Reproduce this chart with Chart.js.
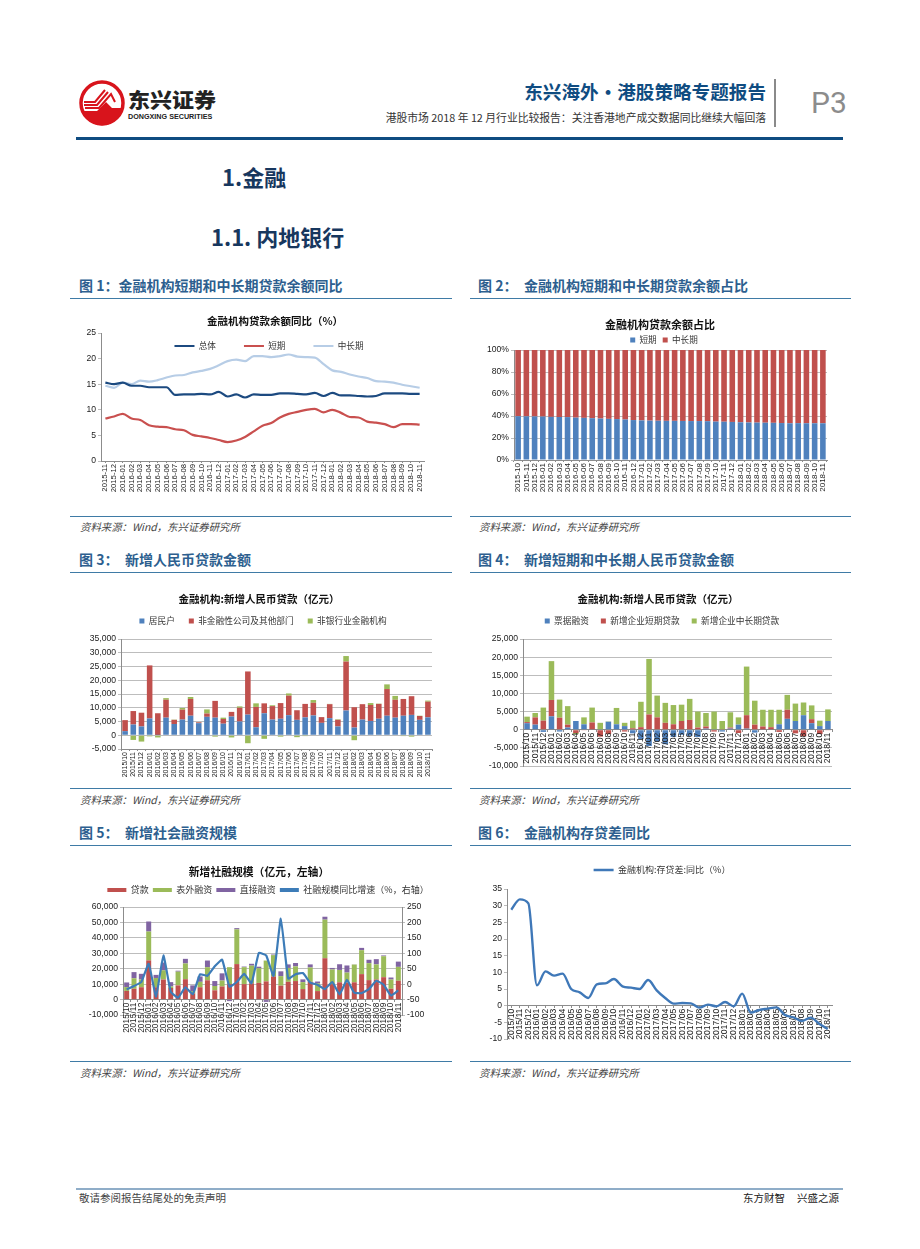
<!DOCTYPE html>
<html>
<head>
<meta charset="utf-8">
<script src="https://cdn.jsdelivr.net/npm/chart.js@4"></script>
<style>
  html, body { margin: 0; padding: 0; background: #fff; }
  #page { position: relative; width: 920px; height: 1249px; overflow: hidden; font-family: "Noto Sans CJK SC", sans-serif; }
  #page canvas { position: absolute; }
  .t { position: absolute; white-space: nowrap; line-height: 1; }
  .rule { position: absolute; height: 1px; background: #3f7ba6; }
  .fig { font-size: 14px; font-weight: 700; color: #2d5f8f; }
  .src { font-size: 10.4px; font-style: italic; color: #444; }
  .sec { font-size: 22px; font-weight: 700; color: #17375e; }
</style>
</head>
<body>
<div id="page">
  <!-- 页眉 -->
  <svg style="position:absolute;left:78px;top:80px" width="48" height="46" viewBox="0 0 48 46">
    <circle cx="24" cy="23" r="21" fill="#fff" stroke="#d8141c" stroke-width="3.5"/>
    <path d="M5 31 L19 31 L28 22 L34 28 L43 28 L43 32 A20 20 0 0 1 5 31 Z" fill="#d8141c"/>
    <path d="M6 22 L17 22 L27 10 M6 25 L19 25 L30 12 M7 28 L21 28 L33 14 L37 22" fill="none" stroke="#d8141c" stroke-width="2"/>
  </svg>
  <div class="t" style="left:128px;top:89px;font-size:22px;font-weight:900;color:#222;transform:scaleY(0.92);transform-origin:top left">东兴证券</div>
  <div class="t" style="left:128px;top:113px;font-size:7.2px;font-weight:700;color:#222;font-family:'Liberation Sans'">DONGXING SECURITIES</div>
  <div class="t" style="right:154px;top:82px;font-size:18.6px;font-weight:700;color:#0f4c81">东兴海外・港股策略专题报告</div>
  <div class="t" style="right:154px;top:112px;font-size:10.8px;color:#333">港股市场 2018 年 12 月行业比较报告：关注香港地产成交数据同比继续大幅回落</div>
  <div style="position:absolute;left:774px;top:79px;width:2px;height:48px;background:#8a8a8a"></div>
  <div class="t" style="left:811px;top:88px;font-size:30px;color:#8c8c8c;font-family:Roboto">P3</div>
  <div style="position:absolute;left:76px;top:137px;width:767px;height:3px;background:#0f4c81"></div>

  <div class="t sec" style="left:222px;top:165px">1.金融</div>
  <div class="t sec" style="left:211px;top:225px">1.1. 内地银行</div>

  <!-- 图题 -->
  <div class="t fig" style="left:79px;top:278px">图 1：金融机构短期和中长期贷款余额同比</div>
  <div class="t fig" style="left:478px;top:278px">图 2：</div>
  <div class="t fig" style="left:524px;top:278px">金融机构短期和中长期贷款余额占比</div>
  <div class="rule" style="left:70px;top:298px;width:382px"></div>
  <div class="rule" style="left:470px;top:298px;width:381px"></div>
  <div class="rule" style="left:70px;top:516px;width:382px"></div>
  <div class="rule" style="left:470px;top:516px;width:381px"></div>
  <div class="t src" style="left:80px;top:522px">资料来源：Wind，东兴证券研究所</div>
  <div class="t src" style="left:479px;top:522px">资料来源：Wind，东兴证券研究所</div>

  <div class="t fig" style="left:79px;top:552px">图 3：</div>
  <div class="t fig" style="left:125px;top:552px">新增人民币贷款金额</div>
  <div class="t fig" style="left:478px;top:552px">图 4：</div>
  <div class="t fig" style="left:524px;top:552px">新增短期和中长期人民币贷款金额</div>
  <div class="rule" style="left:70px;top:572px;width:382px"></div>
  <div class="rule" style="left:470px;top:572px;width:381px"></div>
  <div class="rule" style="left:70px;top:788px;width:382px"></div>
  <div class="rule" style="left:470px;top:788px;width:381px"></div>
  <div class="t src" style="left:80px;top:795px">资料来源：Wind，东兴证券研究所</div>
  <div class="t src" style="left:479px;top:795px">资料来源：Wind，东兴证券研究所</div>

  <div class="t fig" style="left:79px;top:825px">图 5：</div>
  <div class="t fig" style="left:125px;top:825px">新增社会融资规模</div>
  <div class="t fig" style="left:478px;top:825px">图 6：</div>
  <div class="t fig" style="left:524px;top:825px">金融机构存贷差同比</div>
  <div class="rule" style="left:70px;top:845px;width:382px"></div>
  <div class="rule" style="left:470px;top:845px;width:381px"></div>
  <div class="rule" style="left:70px;top:1061px;width:382px"></div>
  <div class="rule" style="left:470px;top:1061px;width:381px"></div>
  <div class="t src" style="left:80px;top:1068px">资料来源：Wind，东兴证券研究所</div>
  <div class="t src" style="left:479px;top:1068px">资料来源：Wind，东兴证券研究所</div>

  <!-- 页脚 -->
  <div style="position:absolute;left:76px;top:1188px;width:767px;height:2px;background:#8fadc8"></div>
  <div class="t" style="left:79px;top:1193px;font-size:10.5px;color:#444">敬请参阅报告结尾处的免责声明</div>
  <div class="t" style="left:743px;top:1193px;font-size:10.5px;color:#222">东方财智</div>
  <div class="t" style="left:797px;top:1193px;font-size:10.5px;color:#222">兴盛之源</div>

  <canvas id="c1" width="382" height="216" style="left:70px;top:299px"></canvas>
  <canvas id="c2" width="381" height="216" style="left:470px;top:299px"></canvas>
  <canvas id="c3" width="382" height="214" style="left:70px;top:573px"></canvas>
  <canvas id="c4" width="381" height="214" style="left:470px;top:573px"></canvas>
  <canvas id="c5" width="382" height="214" style="left:70px;top:846px"></canvas>
  <canvas id="c6" width="381" height="214" style="left:470px;top:846px"></canvas>
</div>

<script>
// 月份
const monthsSlash = ['2015/10','2015/11','2015/12',
  '2016/01','2016/02','2016/03','2016/04','2016/05','2016/06','2016/07','2016/08','2016/09','2016/10','2016/11','2016/12',
  '2017/01','2017/02','2017/03','2017/04','2017/05','2017/06','2017/07','2017/08','2017/09','2017/10','2017/11','2017/12',
  '2018/01','2018/02','2018/03','2018/04','2018/05','2018/06','2018/07','2018/08','2018/09','2018/10','2018/11'];
const monthsDash = monthsSlash.map(m => m.replace('/', '-'));

// 图1 贷款余额同比
const growthTotal = [15.3,15.0,15.3,14.7,14.7,14.4,14.4,14.4,12.9,13.0,13.0,13.1,13.0,13.5,12.6,13.0,12.4,13.0,12.9,12.9,13.2,13.2,13.1,13.0,13.3,12.7,13.3,12.8,12.8,12.7,12.6,12.7,13.2,13.2,13.2,13.1,13.1];
const growthShort = [8.3,8.7,9.2,8.3,8.0,7.0,6.7,6.6,6.2,6.0,5.1,4.8,4.5,4.1,3.7,4.0,4.7,5.8,6.9,7.4,8.5,9.2,9.6,10.0,10.2,9.5,10.0,9.4,8.6,8.5,7.7,7.5,7.2,6.6,7.2,7.2,7.1];
const growthLong = [14.7,14.3,15.3,15.0,15.7,15.5,15.8,16.3,16.7,16.8,17.3,17.6,18.0,18.7,19.5,19.8,19.5,20.5,20.5,20.3,20.5,20.8,20.4,20.3,20.2,18.9,17.7,17.4,16.9,16.5,16.2,15.6,15.5,15.3,14.9,14.6,14.3];

// 图2 贷款余额占比
const shareShort = [39.8,39.7,39.6,39.5,39.2,39.1,39.0,38.5,38.3,38.0,37.7,37.4,37.2,36.8,36.3,36.0,35.8,35.7,35.6,35.6,35.5,35.4,35.4,35.3,34.9,34.8,34.6,34.3,34.1,34.0,33.9,33.8,33.6,33.4,33.5,33.4,33.4,33.4];
const shareLong = [60.2,60.3,60.4,60.5,60.8,60.9,61.0,61.5,61.7,62.0,62.3,62.6,62.8,63.2,63.7,64.0,64.2,64.3,64.4,64.4,64.5,64.6,64.6,64.7,65.1,65.2,65.4,65.7,65.9,66.0,66.1,66.2,66.4,66.6,66.5,66.6,66.6,66.6];

// 图3 新增人民币贷款
const loanHousehold = [1500,3900,3200,6100,100,6400,4100,5700,7100,4400,6700,6400,4200,6800,5000,7500,2900,8000,5700,6000,7300,5600,6500,7200,4500,6200,3200,9000,2800,5700,5200,6000,7100,6400,7100,7400,5600,6500];
const loanCorporate = [4000,4900,5000,19300,7900,6500,1500,3600,6100,300,1200,6100,1700,1700,5000,15700,7400,3600,4900,5700,7100,3500,4900,4600,2100,5100,2400,17800,7400,5600,5800,5400,9700,6500,6100,6800,1400,5700];
const loanNonBank = [-200,-1700,-2300,-400,-800,600,100,600,700,100,1500,-500,500,-800,500,-2900,1300,-1300,300,-500,800,-700,-300,1000,0,100,200,2000,-1800,0,700,100,1700,1400,-300,-500,100,400];

// 图4 新增短期和中长期贷款
const newBill = [1800,1400,-600,3700,-500,600,2400,1500,100,100,2200,1500,1000,-1000,-2600,-4500,-3200,-4000,-2000,-1400,-1700,-2000,300,100,-500,300,1400,300,-800,100,100,1500,3000,2400,4000,1800,1000,2400];
const newShort = [300,2000,2500,4500,3300,800,-900,-100,1900,-1900,-1200,0,-500,400,700,4200,3400,1900,1500,2400,2700,600,600,-500,100,300,-900,3700,1400,800,600,-600,2500,-1000,-1800,1100,-1200,-100];
const newLong = [1500,1200,3600,10700,5000,5100,-300,1900,4100,1800,100,4500,900,2100,7000,15300,6000,5500,5300,4500,5800,4400,3700,4900,2300,4200,2000,13400,6600,4600,4800,4000,4100,4800,3500,3800,1500,3200];

// 图5 新增社融规模
const tsfLoan = [5600,7000,8000,25400,8000,13000,7500,9200,13200,4000,8000,12500,6000,8500,10000,23000,10000,10500,10800,11800,15000,9000,11500,12000,6800,11500,5500,26800,10000,11200,11000,11200,16500,12600,13000,14500,7000,12200];
const tsfOffBalance = [2500,6800,5000,18700,6000,6000,1000,8900,10200,1500,3500,8500,2800,3800,11000,22500,11000,11500,9500,13500,13800,6200,9000,9500,4500,9300,5000,25000,9500,8000,6500,11500,15500,11000,9800,13600,6000,9000];
const tsfDirect = [3000,4000,3700,6500,2000,5000,2800,600,3000,3700,3500,4300,3200,4700,-1000,800,400,1200,1000,-1500,400,3100,2300,2200,1800,2000,1200,1900,1000,3700,4600,100,1500,2200,3400,500,1300,3400];
const tsfGrowth = [-17,-6,7,66,-40,93,-24,-44,-10,-33,32,27,58,79,-8,7,33,3,101,93,27,212,18,32,36,5,-2,-16,7,-33,14,-28,-29,-16,11,-2,-37,-20];

// 图6 存贷差同比
const depositGap = [28.8,31.9,30.7,6.1,10.3,9.0,9.6,5.0,4.0,2.3,6.4,6.7,8.0,5.8,5.4,5.0,7.7,4.6,2.3,0.6,0.8,0.7,-0.6,0.3,-0.2,1.1,-0.2,3.6,-2.1,-1.3,-0.9,-0.5,-2.8,-3.5,-4.6,-3.6,-5.4,-7.0];

const NUM_FONT = '"Liberation Sans", Arial, sans-serif';
const CJK_FONT = '"Noto Sans CJK SC", sans-serif';
const AXIS = '#8c8c8c';
const GRID = '#bdbdbd';
const BLUE = '#4f81bd', RED = '#c0504d', GREEN = '#9bbb59', PURPLE = '#8064a2';

// 标题和图例不占绘图区，位置自己定
const placeText = {
  id: 'placeText',
  beforeLayout(chart) {
    const lg = chart.legend, tb = chart.titleBlock;
    if (lg && !lg._flat) {
      const fit = lg.fit;
      lg.fit = function () { this.maxWidth = 2000; fit.call(this); this.height = 0; };
      lg._flat = true;
    }
    if (tb && !tb._flat) {
      const up = tb.update;
      tb.update = function (w, h, m) { up.call(this, w, h, m); this.height = 0; };
      tb._flat = true;
    }
  },
  afterLayout(chart, args, o) {
    const lg = chart.legend, tb = chart.titleBlock;
    if (tb && o.titleX !== undefined) {
      tb.left = o.titleX - 500; tb.right = o.titleX + 500;
      tb.top = o.titleY - tb.options.font.size * 0.6;
      tb.bottom = tb.top + 30;
    }
    if (lg && o.legendX !== undefined) {
      lg.left = o.legendX - 500; lg.right = o.legendX + 500;
      lg.top = o.legendY - lg.options.labels.padding - lg.options.labels.font.size / 2;
      lg.bottom = lg.top + 60;
    }
  }
};
Chart.register(placeText);

function titleOpt(text, size) {
  return { display: !!text, text: text, color: '#111', padding: 0, font: { family: CJK_FONT, size: size, weight: 'bold' } };
}

function legendOpt(pad, extra) {
  return {
    display: true,
    labels: Object.assign({ color: '#333', padding: pad, boxWidth: 5, boxHeight: 5, font: { family: CJK_FONT, size: 9 } }, extra || {})
  };
}

function xAxis(labelSize, height, onZero, tickZ) {
  const ax = {
    stacked: true,
    offset: true,
    border: { color: AXIS },
    grid: { drawOnChartArea: false, tickLength: 2, color: AXIS },
    ticks: { autoSkip: false, minRotation: 90, maxRotation: 90, padding: 1, color: '#222', z: tickZ || 0, font: { family: NUM_FONT, size: labelSize } },
    afterFit(s) { s.height = height; }
  };
  if (onZero) ax.position = { y: 0 };
  return ax;
}

function yAxis(min, max, step, width, showGrid, fmt) {
  const ticks = { stepSize: step, autoSkip: false, padding: 2, color: '#222', font: { family: NUM_FONT, size: 8.6 } };
  if (fmt) ticks.callback = fmt;
  return {
    min: min, max: max,
    border: { color: AXIS },
    grid: { drawOnChartArea: showGrid, color: GRID, tickLength: 3, lineWidth: 1 },
    ticks: ticks,
    afterFit(s) { s.width = width; }
  };
}

const comma = v => v.toLocaleString('en-US');
const barDs = (label, data, color) => ({ label: label, data: data, backgroundColor: color, borderWidth: 0, barPercentage: 0.68, categoryPercentage: 1 });

// 0 轴上的 x 轴不占高度，底边距要单独给
function baseOptions(top, right, bottom, place, title, legend, scales) {
  return {
    responsive: false,
    animation: false,
    layout: { autoPadding: false, padding: { top: top, right: right, left: 0, bottom: bottom } },
    plugins: { title: title, legend: legend, placeText: place, tooltip: { enabled: false } },
    scales: scales
  };
}

const lineDs = (label, data, color) => ({
  label: label, data: data, borderColor: color, backgroundColor: color,
  borderWidth: 2.2, pointRadius: 0, pointStyle: 'line', tension: 0.4, cubicInterpolationMode: 'monotone'
});

// 图1
new Chart(document.getElementById('c1'), {
  type: 'line',
  data: { labels: monthsDash.slice(1), datasets: [
    lineDs('总体', growthTotal, '#1c4a80'),
    lineDs('短期', growthShort, '#c9504f'),
    lineDs('中长期', growthLong, '#b7cde6')
  ] },
  options: baseOptions(34, 28, 0,
    { titleX: 205, titleY: 22, legendX: 199, legendY: 47 },
    titleOpt('金融机构贷款余额同比（%）', 10.5),
    legendOpt(28, { usePointStyle: true, pointStyleWidth: 20, boxHeight: 9, font: { family: CJK_FONT, size: 8.6 } }),
    { x: Object.assign(xAxis(7.7, 54), { stacked: false }), y: yAxis(0, 25, 5, 31, false) })
});

// 图2
new Chart(document.getElementById('c2'), {
  type: 'bar',
  data: { labels: monthsDash, datasets: [barDs('短期', shareShort, BLUE), barDs('中长期', shareLong, RED)] },
  options: baseOptions(51, 24, 0,
    { titleX: 190, titleY: 26, legendX: 194, legendY: 41 },
    titleOpt('金融机构贷款余额占比', 11),
    legendOpt(6, { font: { family: CJK_FONT, size: 8.6 } }),
    { x: xAxis(8, 55), y: Object.assign(yAxis(0, 100, 20, 44, true, v => v + '%'), { stacked: true }) })
});

// 图3
new Chart(document.getElementById('c3'), {
  type: 'bar',
  data: { labels: monthsSlash, datasets: [
    barDs('居民户', loanHousehold, BLUE),
    barDs('非金融性公司及其他部门', loanCorporate, RED),
    barDs('非银行业金融机构', loanNonBank, GREEN)
  ] },
  options: baseOptions(66, 20, 0,
    { titleX: 189, titleY: 26, legendX: 193, legendY: 48 },
    titleOpt('金融机构:新增人民币贷款（亿元）', 10.5),
    legendOpt(14, { font: { family: CJK_FONT, size: 8.7 } }),
    { x: xAxis(7, 38), y: Object.assign(yAxis(-5000, 35000, 5000, 51, true, comma), { stacked: true }) })
});

// 图4
new Chart(document.getElementById('c4'), {
  type: 'bar',
  data: { labels: monthsSlash, datasets: [
    barDs('票据融资', newBill, BLUE),
    barDs('新增企业短期贷款', newShort, RED),
    barDs('新增企业中长期贷款', newLong, GREEN)
  ] },
  options: baseOptions(66, 19, 21,
    { titleX: 188, titleY: 26, legendX: 192, legendY: 48 },
    titleOpt('金融机构:新增人民币贷款（亿元）', 10.5),
    legendOpt(12, { font: { family: CJK_FONT, size: 8.7 } }),
    { x: xAxis(8.6, 21, true, 1), y: Object.assign(yAxis(-10000, 25000, 5000, 53, true, comma), { stacked: true }) })
});

// 图5
const tsfLine = Object.assign(lineDs('社融规模同比增速（%，右轴）', tsfGrowth, '#3d7cb8'), {
  type: 'line', yAxisID: 'y2', order: -1, tension: 0.12, cubicInterpolationMode: 'default', borderWidth: 2.2
});
new Chart(document.getElementById('c5'), {
  type: 'bar',
  data: { labels: monthsSlash, datasets: [
    barDs('贷款', tsfLoan, RED),
    barDs('表外融资', tsfOffBalance, GREEN),
    barDs('直接融资', tsfDirect, PURPLE),
    tsfLine
  ] },
  options: baseOptions(61, 0, 45,
    { titleX: 189, titleY: 26, legendX: 198, legendY: 44 },
    titleOpt('新增社融规模（亿元，左轴）', 10.8),
    legendOpt(4, {
      boxWidth: 19, boxHeight: 4,
      sort: (a, b) => a.datasetIndex - b.datasetIndex,
      generateLabels(chart) {
        return Chart.defaults.plugins.legend.labels.generateLabels(chart).map(i => { i.lineWidth = 0; return i; });
      }
    }),
    {
      x: xAxis(8.4, 45, true, 1),
      y: Object.assign(yAxis(-10000, 60000, 10000, 53, true, comma), { stacked: true }),
      y2: Object.assign(yAxis(-100, 250, 50, 50, false), { position: 'right' })
    })
});

// 图6
new Chart(document.getElementById('c6'), {
  type: 'line',
  data: { labels: monthsSlash, datasets: [Object.assign(lineDs('金融机构:存贷差:同比（%）', depositGap, '#3f78b8'), { borderWidth: 2.4 })] },
  options: baseOptions(43, 19, 21,
    { legendX: 192, legendY: 24 },
    { display: false },
    legendOpt(0, { usePointStyle: true, pointStyleWidth: 20, boxHeight: 9 }),
    { x: Object.assign(xAxis(8.6, 21, true), { stacked: false }), y: yAxis(-10, 35, 5, 37, false) })
});
</script>
</body>
</html>
